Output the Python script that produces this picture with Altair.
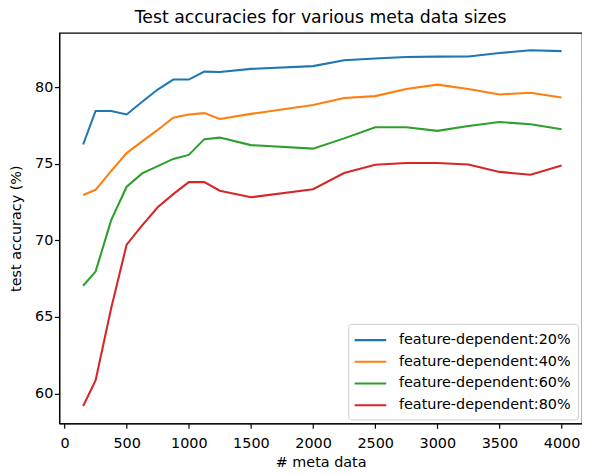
import altair as alt
import pandas as pd

meta_sizes = [150, 250, 375, 500, 625, 750, 875, 1000, 1125, 1250, 1500,
              2000, 2250, 2500, 2750, 3000, 3250, 3500, 3750, 4000]

acc_20 = [76.26, 78.45, 78.45, 78.22, 79.05, 79.85, 80.50, 80.50, 81.02, 81.00, 81.20,
          81.38, 81.76, 81.88, 81.98, 82.00, 82.01, 82.23, 82.42, 82.36]
acc_40 = [72.96, 73.30, 74.52, 75.70, 76.46, 77.21, 78.01, 78.22, 78.31, 77.93, 78.26,
          78.84, 79.30, 79.42, 79.88, 80.17, 79.88, 79.53, 79.64, 79.33]
acc_60 = [67.03, 67.96, 71.30, 73.50, 74.37, 74.85, 75.32, 75.58, 76.61, 76.71, 76.22,
          75.99, 76.66, 77.39, 77.39, 77.15, 77.47, 77.73, 77.58, 77.25]
acc_80 = [59.18, 60.85, 65.55, 69.72, 70.98, 72.16, 73.02, 73.80, 73.80, 73.24, 72.81,
          73.34, 74.40, 74.94, 75.05, 75.05, 74.95, 74.47, 74.28, 74.88]

series_names = ["feature-dependent:20%", "feature-dependent:40%",
                "feature-dependent:60%", "feature-dependent:80%"]
series_colors = ["#1f77b4", "#ff7f0e", "#2ca02c", "#d62728"]

x_ticks = [0, 500, 1000, 1500, 2000, 2500, 3000, 3500, 4000]
y_ticks = [60, 65, 70, 75, 80]

rows = []
for name, vals in zip(series_names, [acc_20, acc_40, acc_60, acc_80]):
    for i, (m, v) in enumerate(zip(meta_sizes, vals)):
        rows.append({"meta": m, "acc": v, "series": name, "order": i})
df = pd.DataFrame(rows)

FONT = "DejaVu Sans"
LBL = 14.6

chart = alt.Chart(df).mark_line(strokeWidth=2.1).encode(
    x=alt.X("meta:Q",
            scale=alt.Scale(domain=[-42, 4164], nice=False, zero=False),
            axis=alt.Axis(values=x_ticks, format="d", title="# meta data",
                          labelFlush=False, labelOverlap=False, grid=False,
                          tickSize=5, tickWidth=1.2, tickColor="black",
                          domainColor="black", domainWidth=1.2,
                          labelPadding=7.5, labelFontSize=LBL, labelFont=FONT,
                          labelColor="black", titleFont=FONT, titleFontSize=LBL,
                          titleFontWeight="normal", titleColor="black",
                          titlePadding=5)),
    y=alt.Y("acc:Q",
            scale=alt.Scale(domain=[58.04, 83.55], nice=False, zero=False),
            axis=alt.Axis(values=y_ticks, format="d", title="test accuracy (%)",
                          labelFlush=False, labelOverlap=False, grid=False,
                          tickSize=5, tickWidth=1.2, tickColor="black",
                          domainColor="black", domainWidth=1.2,
                          labelPadding=1.5, labelFontSize=LBL, labelFont=FONT,
                          labelColor="black", titleFont=FONT, titleFontSize=LBL,
                          titleFontWeight="normal", titleColor="black",
                          titlePadding=11.5)),
    color=alt.Color("series:N",
                    scale=alt.Scale(domain=series_names, range=series_colors),
                    legend=alt.Legend(orient="none", legendX=293, legendY=295,
                                      title=None, symbolType="M-1.25,0H2.75",
                                      symbolSize=256, symbolStrokeWidth=2.1,
                                      labelFontSize=LBL, labelFont=FONT,
                                      labelColor="black", labelOffset=25.4,
                                      labelLimit=400,
                                      fillColor="rgba(255,255,255,0.8)",
                                      strokeColor="#cccccc", cornerRadius=3,
                                      padding=7, rowPadding=5)),
    order="order:Q",
).properties(
    width=530,
    height=396,
    title=alt.TitleParams("Test accuracies for various meta data sizes",
                          font=FONT, fontSize=17.5, fontWeight="normal",
                          color="black", anchor="middle", offset=7),
    autosize=alt.AutoSizeParams(type="none"),
    padding={"left": 52, "top": 22, "right": 0, "bottom": 45},
).configure_view(
    stroke="black", strokeWidth=1.2
)

chart.save("out.html", embed_options={"renderer": "svg", "actions": False})
